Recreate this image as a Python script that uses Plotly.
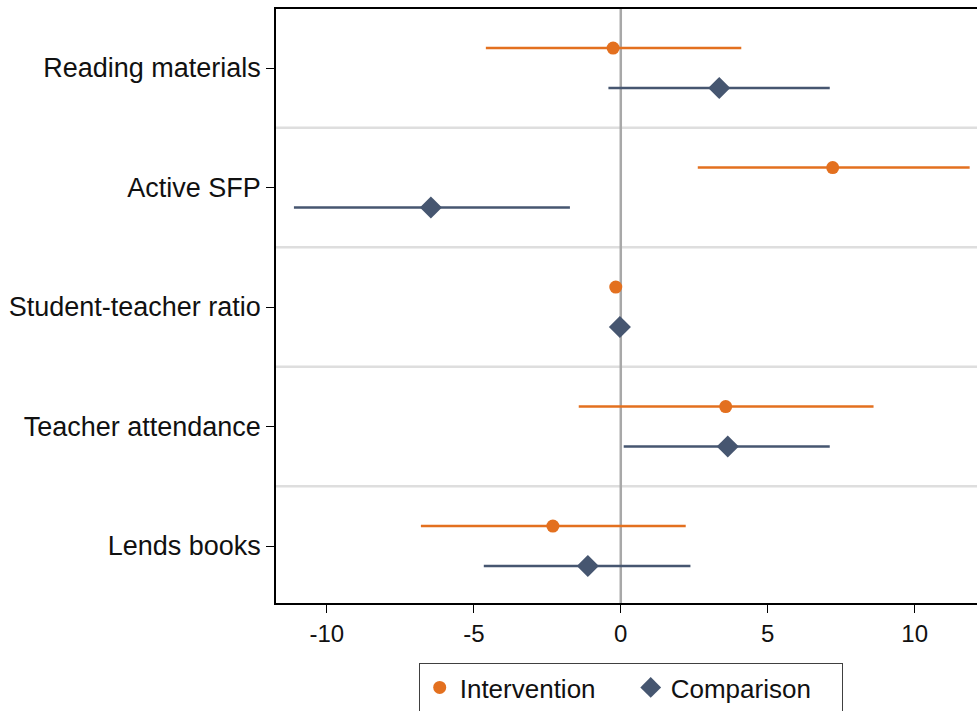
import plotly.graph_objects as go

categories = ["Reading materials", "Active SFP", "Student-teacher ratio", "Teacher attendance", "Lends books"]

int_est = [-0.26, 7.21, -0.17, 3.57, -2.31]
int_lo = [-4.59, 2.62, -0.30, -1.43, -6.80]
int_hi = [4.10, 11.87, -0.04, 8.60, 2.21]

cmp_est = [3.35, -6.46, -0.03, 3.64, -1.12]
cmp_lo = [-0.42, -11.12, -0.12, 0.10, -4.66]
cmp_hi = [7.11, -1.73, 0.06, 7.11, 2.37]

x_ticks = [-10, -5, 0, 5, 10]

ORANGE = "#E3701F"
NAVY = "#465670"
off = 0.167

pos = list(range(len(categories)))

fig = go.Figure()
fig.add_trace(go.Scatter(
    x=int_est, y=[p - off for p in pos], mode="markers", name="Intervention",
    marker=dict(symbol="circle", size=13, color=ORANGE),
    error_x=dict(type="data", symmetric=False,
                 array=[h - e for h, e in zip(int_hi, int_est)],
                 arrayminus=[e - l for e, l in zip(int_est, int_lo)],
                 color=ORANGE, thickness=2.5, width=0),
))
fig.add_trace(go.Scatter(
    x=cmp_est, y=[p + off for p in pos], mode="markers", name="Comparison",
    marker=dict(symbol="diamond", size=17, color=NAVY),
    error_x=dict(type="data", symmetric=False,
                 array=[h - e for h, e in zip(cmp_hi, cmp_est)],
                 arrayminus=[e - l for e, l in zip(cmp_est, cmp_lo)],
                 color=NAVY, thickness=2.5, width=0),
))

# separators between categories
for i in range(len(categories) - 1):
    fig.add_shape(type="line", xref="paper", x0=0, x1=1, yref="y", y0=i + 0.5, y1=i + 0.5,
                  line=dict(color="#DEDEDE", width=2.5), layer="below")
# zero line
fig.add_shape(type="line", xref="x", x0=0, x1=0, yref="paper", y0=0, y1=1,
              line=dict(color="#A8A8A8", width=2.5), layer="below")

fig.update_layout(
    width=977, height=711,
    margin=dict(l=276, r=0, t=9, b=108, autoexpand=False),
    plot_bgcolor="white", paper_bgcolor="white",
    font=dict(family="Liberation Sans, Arial, sans-serif", size=27, color="#111111"),
    showlegend=True,
    legend=dict(orientation="h", x=0.506, xanchor="center", y=-0.101, yanchor="top",
                bordercolor="#404040", borderwidth=1, font=dict(size=26),
                itemwidth=30, tracegroupgap=0, entrywidth=166, entrywidthmode="pixels"),
    xaxis=dict(range=[-11.73, 12.12], tickvals=x_ticks, ticktext=[str(v) for v in x_ticks],
               showgrid=False, zeroline=False, showline=True, linecolor="black", linewidth=1.5,
               mirror=True, ticks="outside", ticklen=8, tickcolor="black", tickwidth=1,
               tickfont=dict(size=24)),
    yaxis=dict(range=[4.477, -0.494], tickvals=pos, ticktext=categories,
               showgrid=False, zeroline=False, showline=True, linecolor="black", linewidth=1.5,
               mirror=False, ticks="outside", ticklen=8, tickcolor="black", tickwidth=1,
               tickfont=dict(size=27)),
)

fig.write_html("out.html")
